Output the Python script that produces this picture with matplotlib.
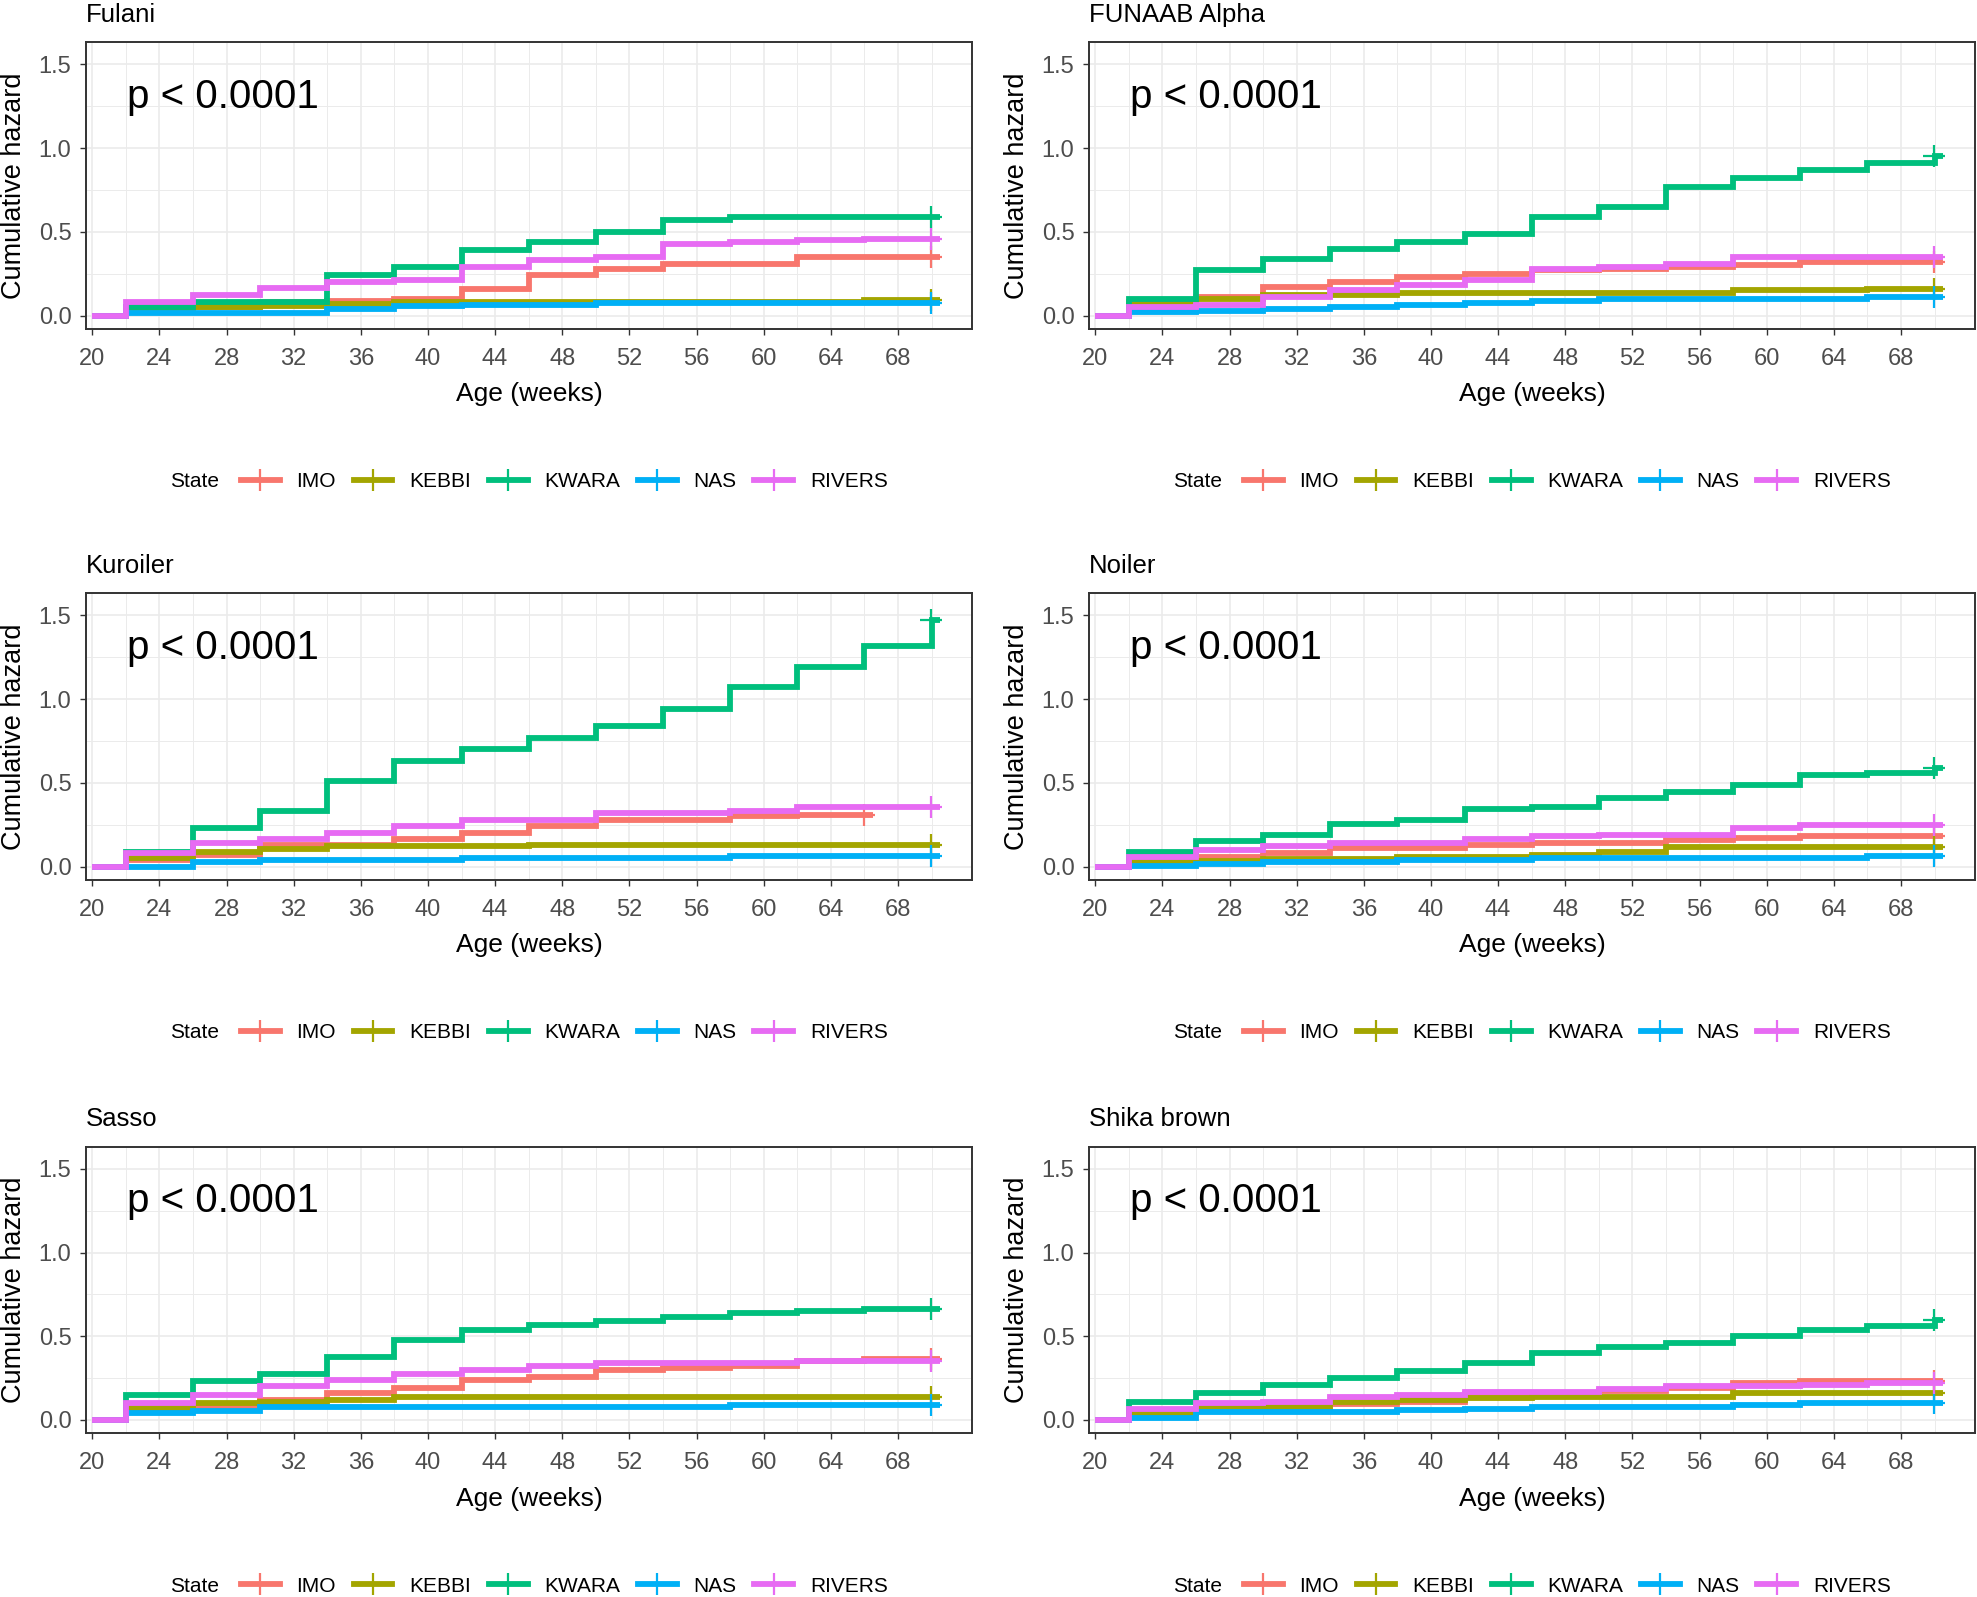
import numpy as np
import matplotlib
matplotlib.use('Agg')
import matplotlib.pyplot as plt
from matplotlib.lines import Line2D

plt.rcParams['font.family'] = ['Liberation Sans', 'DejaVu Sans']

# 数据：累积风险（从第22周开始每4周一个台阶）
weeks = [22, 26, 30, 34, 38, 42, 46, 50, 54, 58, 62, 66, 70]
states = ['IMO', 'KEBBI', 'KWARA', 'NAS', 'RIVERS']
colors = ['#F8766D', '#A3A500', '#00BF7D', '#00B0F6', '#E76BF3']
breeds = ['Fulani', 'FUNAAB Alpha', 'Kuroiler', 'Noiler', 'Sasso', 'Shika brown']

fulani_imo = [0.03, 0.05, 0.08, 0.09, 0.10, 0.16, 0.24, 0.28, 0.31, 0.31, 0.35, 0.35, 0.35]
fulani_kebbi = [0.03, 0.05, 0.06, 0.07, 0.08, 0.08, 0.08, 0.08, 0.08, 0.08, 0.08, 0.095, 0.095]
fulani_kwara = [0.05, 0.08, 0.08, 0.24, 0.29, 0.39, 0.44, 0.50, 0.57, 0.59, 0.59, 0.59, 0.59]
fulani_nas = [0.015, 0.015, 0.015, 0.04, 0.055, 0.065, 0.065, 0.075, 0.075, 0.075, 0.075, 0.075, 0.075]
fulani_rivers = [0.08, 0.12, 0.165, 0.20, 0.215, 0.29, 0.33, 0.35, 0.43, 0.44, 0.45, 0.46, 0.46]

funaab_imo = [0.07, 0.11, 0.17, 0.20, 0.23, 0.25, 0.27, 0.28, 0.29, 0.30, 0.32, 0.32, 0.32]
funaab_kebbi = [0.08, 0.10, 0.12, 0.12, 0.135, 0.135, 0.135, 0.135, 0.135, 0.15, 0.15, 0.16, 0.16]
funaab_kwara = [0.10, 0.27, 0.34, 0.40, 0.44, 0.49, 0.59, 0.65, 0.77, 0.82, 0.87, 0.91, 0.95]
funaab_nas = [0.02, 0.03, 0.04, 0.05, 0.065, 0.075, 0.085, 0.10, 0.10, 0.10, 0.10, 0.11, 0.11]
funaab_rivers = [0.05, 0.065, 0.11, 0.15, 0.185, 0.215, 0.28, 0.29, 0.31, 0.35, 0.35, 0.35, 0.35]

kuroiler_imo = [0.04, 0.07, 0.13, 0.13, 0.165, 0.20, 0.245, 0.28, 0.28, 0.30, 0.31, 0.31]  # 到66周截止
kuroiler_kebbi = [0.05, 0.09, 0.105, 0.12, 0.12, 0.12, 0.13, 0.13, 0.13, 0.13, 0.13, 0.13, 0.13]
kuroiler_kwara = [0.09, 0.23, 0.33, 0.51, 0.63, 0.70, 0.77, 0.84, 0.94, 1.07, 1.19, 1.32, 1.47]
kuroiler_nas = [0.0, 0.03, 0.04, 0.04, 0.04, 0.05, 0.05, 0.05, 0.05, 0.065, 0.065, 0.065, 0.065]
kuroiler_rivers = [0.08, 0.14, 0.165, 0.20, 0.24, 0.28, 0.28, 0.32, 0.32, 0.33, 0.355, 0.355, 0.355]

noiler_imo = [0.04, 0.06, 0.08, 0.11, 0.11, 0.13, 0.14, 0.14, 0.16, 0.17, 0.18, 0.18, 0.18]
noiler_kebbi = [0.025, 0.035, 0.045, 0.045, 0.055, 0.055, 0.07, 0.09, 0.115, 0.115, 0.115, 0.115, 0.115]
noiler_kwara = [0.085, 0.15, 0.19, 0.255, 0.28, 0.345, 0.355, 0.41, 0.445, 0.485, 0.545, 0.56, 0.59]
noiler_nas = [0.005, 0.015, 0.025, 0.025, 0.04, 0.04, 0.05, 0.05, 0.05, 0.05, 0.05, 0.065, 0.065]
noiler_rivers = [0.055, 0.10, 0.125, 0.14, 0.14, 0.165, 0.18, 0.19, 0.19, 0.23, 0.25, 0.25, 0.25]

sasso_imo = [0.06, 0.08, 0.12, 0.16, 0.19, 0.24, 0.255, 0.30, 0.31, 0.325, 0.35, 0.365, 0.365]
sasso_kebbi = [0.07, 0.10, 0.11, 0.12, 0.14, 0.14, 0.14, 0.14, 0.14, 0.14, 0.14, 0.14, 0.14]
sasso_kwara = [0.15, 0.23, 0.275, 0.375, 0.48, 0.54, 0.565, 0.59, 0.615, 0.64, 0.65, 0.665, 0.665]
sasso_nas = [0.04, 0.055, 0.08, 0.08, 0.08, 0.08, 0.08, 0.08, 0.08, 0.09, 0.09, 0.09, 0.09]
sasso_rivers = [0.10, 0.15, 0.20, 0.24, 0.275, 0.30, 0.325, 0.34, 0.34, 0.34, 0.35, 0.35, 0.35]

shika_imo = [0.04, 0.07, 0.08, 0.095, 0.105, 0.155, 0.16, 0.175, 0.19, 0.22, 0.23, 0.23, 0.23]
shika_kebbi = [0.04, 0.07, 0.08, 0.105, 0.12, 0.13, 0.14, 0.14, 0.14, 0.16, 0.16, 0.16, 0.16]
shika_kwara = [0.11, 0.16, 0.21, 0.25, 0.29, 0.34, 0.40, 0.435, 0.46, 0.50, 0.54, 0.56, 0.595]
shika_nas = [0.01, 0.05, 0.05, 0.05, 0.06, 0.065, 0.075, 0.08, 0.08, 0.09, 0.10, 0.10, 0.10]
shika_rivers = [0.065, 0.10, 0.11, 0.14, 0.15, 0.17, 0.17, 0.185, 0.20, 0.20, 0.21, 0.22, 0.22]

panel_data = [
    [fulani_imo, fulani_kebbi, fulani_kwara, fulani_nas, fulani_rivers],
    [funaab_imo, funaab_kebbi, funaab_kwara, funaab_nas, funaab_rivers],
    [kuroiler_imo, kuroiler_kebbi, kuroiler_kwara, kuroiler_nas, kuroiler_rivers],
    [noiler_imo, noiler_kebbi, noiler_kwara, noiler_nas, noiler_rivers],
    [sasso_imo, sasso_kebbi, sasso_kwara, sasso_nas, sasso_rivers],
    [shika_imo, shika_kebbi, shika_kwara, shika_nas, shika_rivers],
]

W, H = 1977, 1597
fig = plt.figure(figsize=(W / 100, H / 100), dpi=100)

col_left = [86, 1089]
col_shift = [0, 1003]
row_top = [42.3, 593.3, 1146.7]
row_shift = [0, 551, 1104.4]
ax_w, ax_h = 886, 286.5

grey20 = '#333333'
grid_col = '#EBEBEB'
lw = 4.2

for i, breed in enumerate(breeds):
    r, c = divmod(i, 2)
    ax = fig.add_axes([col_left[c] / W, 1 - (row_top[r] + ax_h) / H, ax_w / W, ax_h / H])
    ax.set_xlim(19.63, 72.41)
    ax.set_ylim(-0.079, 1.632)
    ax.set_xticks(np.arange(20, 72, 4))
    ax.set_xticks(np.arange(22, 72, 4), minor=True)
    ax.set_yticks([0.0, 0.5, 1.0, 1.5])
    ax.set_yticklabels(['0.0', '0.5', '1.0', '1.5'])
    ax.set_yticks([0.25, 0.75, 1.25], minor=True)
    ax.grid(True, which='major', color=grid_col, linewidth=1.2)
    ax.grid(True, which='minor', color=grid_col, linewidth=0.7)
    ax.set_axisbelow(True)
    for s in ax.spines.values():
        s.set_color(grey20)
        s.set_linewidth(1.4)
    ax.tick_params(which='major', length=4.5, width=1.0, color=grey20,
                   labelsize=17, labelcolor='#4D4D4D', pad=6)
    ax.tick_params(axis='x', which='major', pad=9)
    ax.tick_params(which='minor', length=0)

    for vals, col in zip(panel_data[i], colors):
        t = [20] + weeks[:len(vals)]
        y = [0.0] + list(vals)
        t_end = t[-1] + 0.5
        ax.plot(t + [t_end], y + [y[-1]], drawstyle='steps-post', color=col,
                linewidth=lw, solid_capstyle='butt', solid_joinstyle='miter')
        ax.plot([t[-1] - 0.05], [y[-1]], marker='+', color=col,
                markersize=16, markeredgewidth=1.6, linestyle='none')

    ax.text(22.07, 1.242, 'p < 0.0001', fontsize=29, ha='left', va='baseline', color='black')
    ax.set_title(breed, loc='left', fontsize=18.5, pad=14.8, color='black')
    ax.set_xlabel('Age (weeks)', fontsize=19, color='black')
    ax.xaxis.set_label_coords(0.5, -0.187)

    # y轴标签
    fig.text((14 + col_shift[c]) / W, 1 - (row_top[r] + ax_h / 2) / H, 'Cumulative hazard',
             rotation=90, ha='center', va='center', fontsize=19.5, color='black')

    # 图例
    ly = 1 - (481.7 + row_shift[r]) / H
    fig.text((169.7 + col_shift[c]) / W, ly, 'State', fontsize=15, ha='left', va='center')
    handles = [Line2D([0], [0], color=col, linewidth=lw, marker='+', markersize=16,
                      markeredgewidth=1.6) for col in colors]
    fig.legend(handles, states, loc='center left',
               bbox_to_anchor=((240.7 + col_shift[c]) / W, ly), ncol=5, frameon=False,
               fontsize=15, handlelength=1.87, handletextpad=0.8, columnspacing=0.85,
               borderpad=0, borderaxespad=0)

fig.savefig('out.png', dpi=100, facecolor='white')
